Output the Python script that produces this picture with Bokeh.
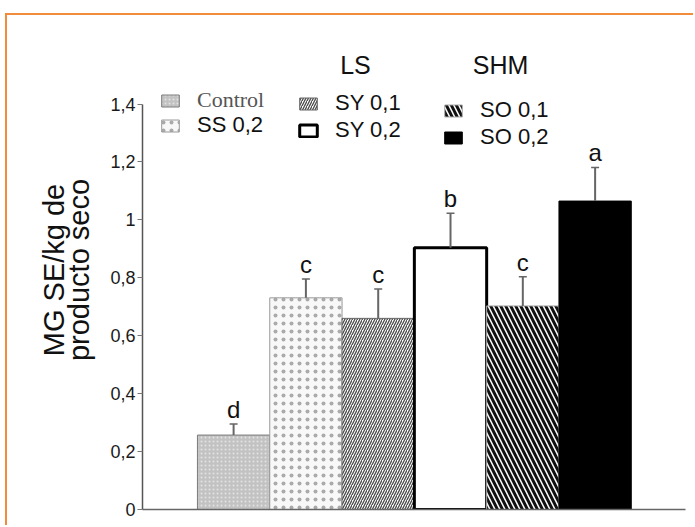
from bokeh.plotting import figure
from bokeh.models import (ColumnDataSource, FixedTicker, Label, Legend, LegendItem,
                          Whisker, TeeHead, Range1d, LinearAxis)
from bokeh.core.properties import value
from bokeh.embed import file_html
from bokeh.resources import INLINE

# ---------------- data ----------------
categories = ["Control", "SS 0,2", "SY 0,1", "SY 0,2", "SO 0,1", "SO 0,2"]
means = [0.257, 0.731, 0.660, 0.904, 0.703, 1.065]
errors = [0.038, 0.065, 0.101, 0.119, 0.101, 0.116]
letters = ["d", "c", "c", "b", "c", "a"]
group_titles = ["LS", "SHM"]
y_ticks = [0, 0.2, 0.4, 0.6, 0.8, 1, 1.2, 1.4]
y_tick_labels = ["0", "0,2", "0,4", "0,6", "0,8", "1", "1,2", "1,4"]
y_title = ["MG SE/kg de", "producto seco"]

# ---------------- styles ----------------
fill_colors = ["#c2c2c2", "#f8f8f8", "#ffffff", "#ffffff", "#ffffff", "#000000"]
hatch_patterns = ["dot", "dot", "right_diagonal_line", "blank", "left_diagonal_line", "blank"]
hatch_colors = ["#e2e2e2", "#aaaaaa", "#4a4a4a", "#000000", "#111111", "#000000"]
hatch_scales = [4, 8, 5, 12, 10, 12]
hatch_weights = [1, 1, 1.3, 1, 3, 1]
line_colors = ["#7a7a7a", "#9a9a9a", "#666666", "#000000", "#aaaaaa", "#000000"]
line_widths = [1, 1, 1, 3, 1, 1]
FONT = "Liberation Sans"

xs = list(range(len(categories)))
src = ColumnDataSource(dict(
    x=xs, top=means, upper=[m + e for m, e in zip(means, errors)], letter=letters,
    fill=fill_colors, hp=hatch_patterns, hc=hatch_colors, hs=hatch_scales,
    hw=hatch_weights, lc=line_colors, lw=line_widths,
))

W, H = 688, 512
p = figure(width=W, height=H, x_range=Range1d(-1.26, 6.25), y_range=Range1d(0, 1.654),
           output_backend="svg", toolbar_location=None,
           min_border_left=135, min_border_right=10, min_border_top=15, min_border_bottom=18)
p.styles = {"margin-left": "5px", "margin-top": "13px",
            "border-left": "2px solid #F08C3C", "border-top": "2px solid #F08C3C"}
p.outline_line_color = None
p.xgrid.visible = False
p.ygrid.visible = False
p.background_fill_color = "white"
p.border_fill_color = "white"

# axes
p.yaxis.ticker = FixedTicker(ticks=y_ticks)
p.yaxis.major_label_overrides = dict(zip(y_ticks, y_tick_labels))
p.yaxis.bounds = (0, 1.4)
p.yaxis.axis_line_color = "#555555"
p.yaxis.axis_line_width = 1.5
p.yaxis.major_tick_line_color = "#777777"
p.yaxis.major_tick_out = 5
p.yaxis.major_tick_in = 0
p.yaxis.minor_tick_line_color = None
p.yaxis.major_label_text_font = FONT
p.yaxis.major_label_text_font_size = "18px"
p.yaxis.major_label_text_color = "#1a1a1a"
p.yaxis.major_label_standoff = 2

# title axis (only carries the two-line label, centred on the frame)
title_axis = LinearAxis(ticker=FixedTicker(ticks=[]), axis_label="\n".join(y_title),
                        axis_line_color=None, major_tick_line_color=None,
                        minor_tick_line_color=None, axis_label_standoff=13,
                        axis_label_text_font=FONT, axis_label_text_font_size="29px",
                        axis_label_text_font_style="normal",
                        axis_label_text_color="#111111",
                        axis_label_text_line_height=0.78)
p.add_layout(title_axis, "left")

p.xaxis.major_tick_line_color = None
p.xaxis.minor_tick_line_color = None
p.xaxis.major_label_text_font_size = "0px"
p.xaxis.major_label_text_color = None
p.xaxis.axis_line_color = "#666666"
p.xaxis.axis_line_width = 1.5
p.xaxis.major_label_standoff = 0

# bars
bars = p.vbar(x="x", top="top", bottom=0, width=1, source=src,
              fill_color="fill", hatch_pattern="hp", hatch_color="hc",
              hatch_scale="hs", hatch_weight="hw", line_color="lc", line_width="lw")

# error bars
wh = Whisker(source=src, base="x", lower="top", upper="upper",
             upper_head=TeeHead(size=8, line_color="#666666", line_width=1.5),
             lower_head=None, line_color="#666666", line_width=2, level="overlay")
p.add_layout(wh)

# significance letters
p.text(x="x", y="upper", text="letter", source=src, text_align="center",
       text_baseline="bottom", y_offset=-1, text_font=value(FONT),
       text_font_size="24px", text_color="#111111")

# legends
def make_legend(items, loc, font="Liberation Sans", color="#111111"):
    lg = Legend(items=items, location=loc, padding=0, margin=0, spacing=1,
                glyph_width=22, glyph_height=15, label_standoff=16,
                label_height=20, label_text_font=font, label_text_font_size="22px",
                label_text_color=color, background_fill_alpha=0, border_line_color=None)
    p.add_layout(lg)
    return lg

make_legend([LegendItem(label=categories[0], renderers=[bars], index=0)], (17, 396),
            font="Liberation Serif", color="#555555")
make_legend([LegendItem(label=categories[1], renderers=[bars], index=1)], (17, 371))
make_legend([LegendItem(label=categories[2], renderers=[bars], index=2),
             LegendItem(label=categories[3], renderers=[bars], index=3)], (155, 366))
make_legend([LegendItem(label=categories[4], renderers=[bars], index=4),
             LegendItem(label=categories[5], renderers=[bars], index=5)], (300, 359))

# group headings
for t, xpos in zip(group_titles, [213, 358]):
    p.add_layout(Label(x=xpos, y=445, x_units="screen", y_units="screen", text=t,
                       text_align="center", text_baseline="middle", text_font=FONT,
                       text_font_size="25px", text_color="#111111"))

open("out.html", "w").write(file_html(p, INLINE))
